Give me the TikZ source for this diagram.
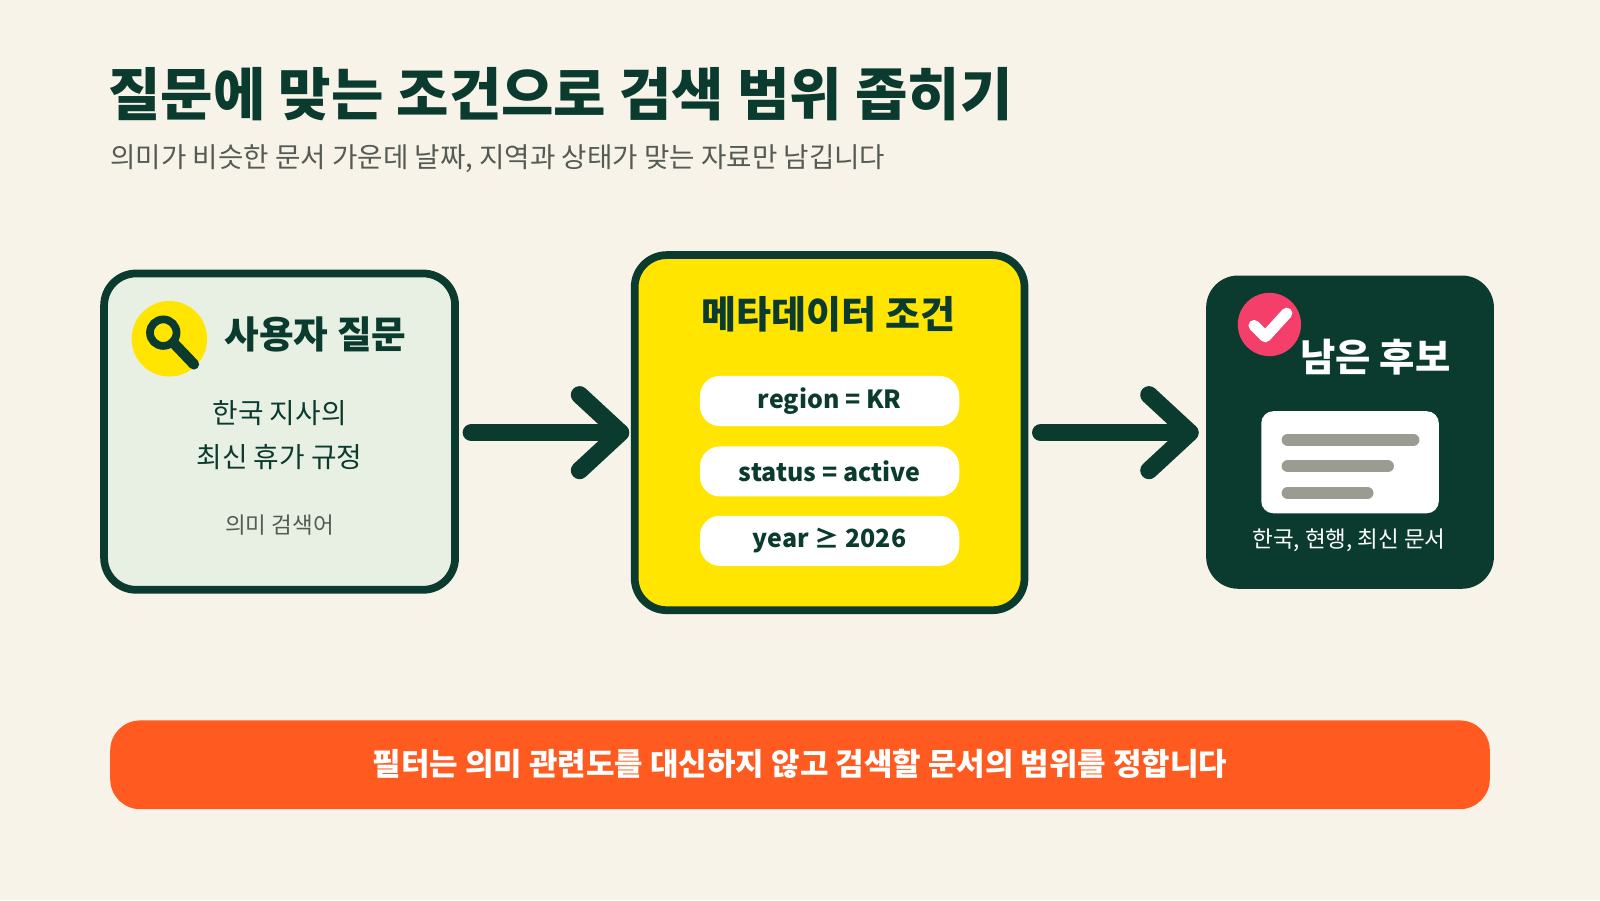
\documentclass[tikz,border=0pt]{standalone}
\usepackage{fontspec}
\setmainfont{Noto Sans CJK KR}
\usetikzlibrary{positioning}
\definecolor{bgcream}{HTML}{F7F3E8}
\definecolor{darkgreen}{HTML}{0B3B2E}
\definecolor{palegreen}{HTML}{E8F0E4}
\definecolor{filteryellow}{HTML}{FFE500}
\definecolor{checkpink}{HTML}{F43F6B}
\definecolor{barorange}{HTML}{FF5A1F}
\definecolor{linegray}{HTML}{9A9C92}
\definecolor{subgray}{HTML}{555A55}
\tikzset{
  stage/.style={draw=darkgreen, line width=2.2pt, rounded corners=0.32cm},
  pill/.style={fill=white, rounded corners=0.2cm, minimum width=2.59cm, minimum height=0.5cm, text=darkgreen, font=\bfseries\fontsize{7.1}{9}\selectfont},
  flow/.style={line width=5pt, darkgreen, line cap=round, line join=round},
  label/.style={font=\fontsize{7.9}{9.5}\selectfont, text=darkgreen}
}
\begin{document}
\begin{tikzpicture}[x=0.0102cm,y=-0.0102cm]
\fill[bgcream] (0,0) rectangle (1568,882);
% title
\node[anchor=west, text=darkgreen, font=\bfseries\fontsize{16.2}{19}\selectfont] (title) at (94,92) {질문에 맞는 조건으로 검색 범위 좁히기};
\node[anchor=west, text=subgray, font=\fontsize{7.85}{9}\selectfont] (subtitle) at (96,156) {의미가 비슷한 문서 가운데 날짜, 지역과 상태가 맞는 자료만 남깁니다};
% query box
\draw[stage, fill=palegreen] (102,268) rectangle (446,578);
\fill[filteryellow] (166,332) circle (37);
\draw[darkgreen, line width=2.2pt] (160,326) circle (13);
\draw[darkgreen, line width=3pt, line cap=round] (170,336) -- (190,357);
\node[anchor=west, text=darkgreen, font=\bfseries\fontsize{10.7}{12}\selectfont] (qhead) at (208,328) {사용자 질문};
\node[label, align=center] (qtext) at (274,426) {한국 지사의\\[3pt]최신 휴가 규정};
\node[text=subgray, font=\fontsize{6.4}{8}\selectfont] (qnote) at (274,515) {의미 검색어};
% metadata box
\draw[stage, fill=filteryellow] (622,250) rectangle (1004,598);
\node[text=darkgreen, font=\bfseries\fontsize{10.8}{12}\selectfont] (mhead) at (812,308) {메타데이터 조건};
\node[pill] (region) at (813,393) {region = KR};
\node[pill] (status) at (813,462) {status = active};
\node[pill] (year) at (813,530) {year ≥ 2026};
% result box
\fill[darkgreen, rounded corners=0.32cm] (1182,270) rectangle (1464,577);
\fill[checkpink] (1244,318) circle (31);
\draw[white, line width=3.2pt, line cap=round, line join=round] (1229,319) -- (1240,330) -- (1261,307);
\node[text=white, font=\bfseries\fontsize{10.9}{13}\selectfont] (rhead) at (1348,350) {남은 후보};
\fill[white, rounded corners=0.12cm] (1236,403) rectangle (1410,503);
\draw[linegray, line width=3.5pt, line cap=round] (1262,431) -- (1385,431) (1262,457) -- (1360,457) (1262,483) -- (1340,483);
\node[text=white, font=\fontsize{6.4}{8}\selectfont] (rnote) at (1322,530) {한국, 현행, 최신 문서};
% arrows
\coordinate (a1s) at (462,424); \coordinate (a1e) at (608,424);
\coordinate (a2s) at (1020,424); \coordinate (a2e) at (1166,424);
\draw[flow] (a1s) -- (a1e);
\draw[flow] ([shift={(-40,-37)}]a1e) -- (a1e) -- ([shift={(-40,37)}]a1e);
\draw[flow] (a2s) -- (a2e);
\draw[flow] ([shift={(-40,-37)}]a2e) -- (a2e) -- ([shift={(-40,37)}]a2e);
% bottom bar
\fill[barorange, rounded corners=0.3cm] (108,706) rectangle (1460,793);
\node[text=white, font=\bfseries\fontsize{8.8}{11}\selectfont] (note) at (784,749) {필터는 의미 관련도를 대신하지 않고 검색할 문서의 범위를 정합니다};
\end{tikzpicture}
\end{document}
